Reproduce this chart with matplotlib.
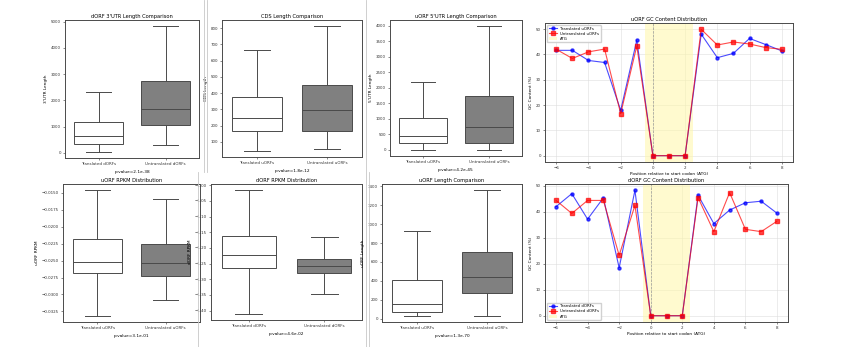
import matplotlib
matplotlib.use("agg")
import matplotlib.pyplot as plt
from matplotlib.lines import Line2D

FIG_W, FIG_H = 843, 347

# five-number summaries per group: whislo, q1, med, q3, whishi
dorf_3utr_trans = [38, 345, 625, 1188, 2337]
dorf_3utr_untrans = [306, 1046, 1659, 2720, 4828]
cds_trans = [45, 167, 247, 374, 668]
cds_untrans = [57, 167, 296, 447, 812]
uorf_5utr_trans = [0, 223, 455, 1019, 2197]
uorf_5utr_untrans = [0, 223, 742, 1720, 3981]
uorf_rpkm_trans = [-0.03314, -0.02686, -0.02515, -0.02181, -0.01461]
uorf_rpkm_untrans = [-0.03088, -0.02725, -0.02529, -0.02250, -0.01593]
dorf_rpkm_trans = [-1.410, -1.263, -1.222, -1.163, -1.016]
dorf_rpkm_untrans = [-1.348, -1.280, -1.257, -1.235, -1.166]
uorf_len_trans = [32, 74, 158, 411, 926]
uorf_len_untrans = [32, 277, 442, 705, 1358]

# GC content around the start codon
gc_pos = list(range(-6, 9))
uorf_gc_trans = [41.6, 41.6, 37.6, 36.8, 17.9, 45.6, 0, 0, 0,
                 48.0, 38.7, 40.4, 46.3, 43.9, 41.4]
uorf_gc_untrans = [42.0, 38.4, 41.0, 42.1, 16.6, 43.3, 0, 0, 0,
                   49.9, 43.7, 44.9, 44.1, 42.7, 42.0]
dorf_gc_trans = [41.9, 46.9, 37.1, 45.3, 18.4, 48.2, 0, 0, 0,
                 46.3, 35.4, 40.6, 43.4, 44.0, 39.4]
dorf_gc_untrans = [44.3, 39.3, 44.3, 44.3, 23.2, 42.4, 0, 0, 0,
                   45.4, 32.3, 47.3, 33.2, 32.3, 36.3]

TITLE_FS = 3.7
LABEL_FS = 3.1
TICK_FS = 2.9
EDGE = '#4a4a4a'


def place(fig, left, top, right, bottom):
    return fig.add_axes([left / FIG_W, 1 - bottom / FIG_H,
                         (right - left) / FIG_W, (bottom - top) / FIG_H])


def style_axes(ax):
    for sp in ax.spines.values():
        sp.set_color(EDGE)
        sp.set_linewidth(0.7)
    ax.tick_params(labelsize=TICK_FS, length=1.5, width=0.4, pad=1.5,
                   colors='#333333')


def box_panel(ax, summaries, names, title, ylabel, xlabel):
    stats = []
    for s, name in zip(summaries, names):
        stats.append({'whislo': s[0], 'q1': s[1], 'med': s[2],
                      'q3': s[3], 'whishi': s[4], 'label': name})
    line = dict(color=EDGE, linewidth=0.7)
    parts = ax.bxp(stats, positions=[0, 1], widths=0.72, showfliers=False,
                   patch_artist=True, boxprops=dict(edgecolor=EDGE, linewidth=0.7),
                   whiskerprops=line, capprops=line, medianprops=line)
    for patch, face in zip(parts['boxes'], ['white', '#808080']):
        patch.set_facecolor(face)
    ax.set_xlim(-0.5, 1.5)
    ax.set_title(title, fontsize=TITLE_FS, pad=1.5)
    ax.set_ylabel(ylabel, fontsize=LABEL_FS, labelpad=2)
    ax.set_xlabel(xlabel, fontsize=LABEL_FS, labelpad=3)
    style_axes(ax)


def gc_panel(ax, trans, untrans, kind, title, legend_loc):
    ax.axvspan(-0.5, 2.5, color='#fff7a8', alpha=0.55, lw=0, label='ATG')
    ax.axvline(0, color='#999999', ls='--', lw=0.5)
    ax.plot(gc_pos, trans, color='blue', marker='o', ms=2.2, lw=0.8,
            alpha=0.7, label='Translated ' + kind)
    ax.plot(gc_pos, untrans, color='red', marker='s', ms=2.2, lw=0.8,
            alpha=0.7, label='Untranslated ' + kind)
    ax.grid(True, color='#dddddd', lw=0.4)
    ax.set_axisbelow(True)
    ax.set_xticks([-6, -4, -2, 0, 2, 4, 6, 8])
    ax.set_title(title, fontsize=TITLE_FS, pad=1.5)
    ax.set_xlabel('Position relative to start codon (ATG)', fontsize=LABEL_FS,
                  labelpad=1)
    ax.set_ylabel('GC Content (%)', fontsize=LABEL_FS, labelpad=2)
    handles, labels = ax.get_legend_handles_labels()
    order = [1, 2, 0]
    ax.legend([handles[i] for i in order], [labels[i] for i in order],
              loc=legend_loc, fontsize=2.8, framealpha=0.9, edgecolor='#cccccc',
              handlelength=2.2, borderpad=0.4, labelspacing=0.3)
    style_axes(ax)


fig = plt.figure(figsize=(FIG_W / 100, FIG_H / 100), dpi=100)

ax = place(fig, 65, 20, 199, 158)
box_panel(ax, [dorf_3utr_trans, dorf_3utr_untrans],
          ['Translated dORFs', 'Untranslated dORFs'],
          "dORF 3'UTR Length Comparison", "3'UTR Length", 'p-value=2.1e-38')

ax = place(fig, 222, 20, 362, 157)
box_panel(ax, [cds_trans, cds_untrans],
          ['Translated uORFs', 'Untranslated uORFs'],
          'CDS Length Comparison', 'CDS Length', 'p-value=1.8e-12')

ax = place(fig, 390, 20, 522, 156)
box_panel(ax, [uorf_5utr_trans, uorf_5utr_untrans],
          ['Translated uORFs', 'Untranslated uORFs'],
          "uORF 5'UTR Length Comparison", "5'UTR Length", 'p-value=4.2e-45')

ax = place(fig, 545, 23, 793, 162)
gc_panel(ax, uorf_gc_trans, uorf_gc_untrans, 'uORFs',
         'uORF GC Content Distribution', 'upper left')

ax = place(fig, 63, 184, 200, 322)
box_panel(ax, [uorf_rpkm_trans, uorf_rpkm_untrans],
          ['Translated uORFs', 'Untranslated uORFs'],
          'uORF RPKM Distribution', 'uORF RPKM', 'p-value=3.1e-01')

ax = place(fig, 211, 184, 362, 320)
box_panel(ax, [dorf_rpkm_trans, dorf_rpkm_untrans],
          ['Translated dORFs', 'Untranslated dORFs'],
          'dORF RPKM Distribution', 'dORF RPKM', 'p-value=4.6e-02')

ax = place(fig, 382, 184, 522, 322)
box_panel(ax, [uorf_len_trans, uorf_len_untrans],
          ['Translated uORFs', 'Untranslated uORFs'],
          'uORF Length Comparison', 'uORF Length', 'p-value=1.3e-70')

ax = place(fig, 545, 184, 788, 322)
gc_panel(ax, dorf_gc_trans, dorf_gc_untrans, 'dORFs',
         'dORF GC Content Distribution', 'lower left')

# thin separators between the panel images
for x, y0, y1 in [(204, 0, 172), (207, 0, 172), (198, 172, 347),
                  (366, 0, 347), (369, 172, 347)]:
    fig.add_artist(Line2D([x / FIG_W, x / FIG_W], [1 - y1 / FIG_H, 1 - y0 / FIG_H],
                          color='#c8c8c8', lw=0.6))

fig.savefig('out.png', dpi=100)
